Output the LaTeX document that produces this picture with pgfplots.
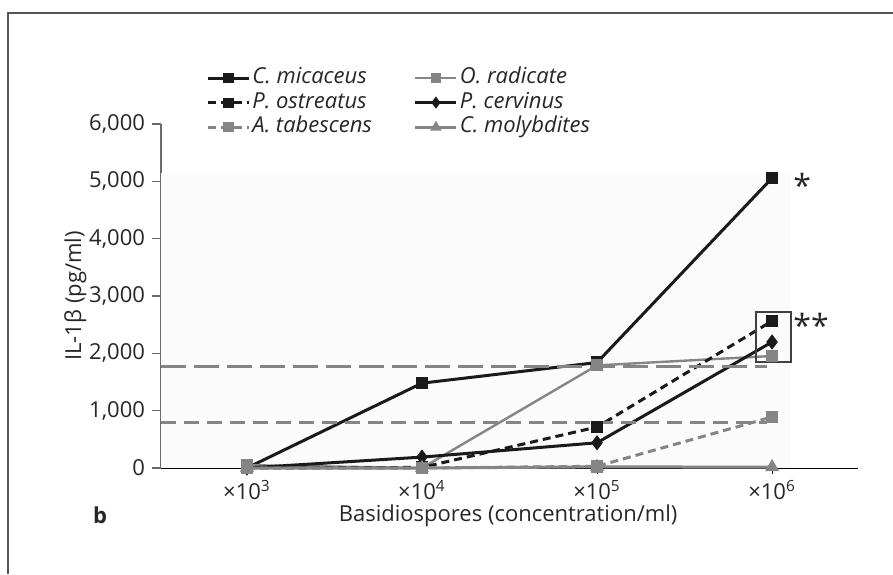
\documentclass[border=0pt]{standalone}
\usepackage{fontspec}
\setmainfont{Open Sans}
\usepackage{pgfplots}
\pgfplotsset{compat=1.18}
\definecolor{serA}{HTML}{1A1A1A}
\definecolor{serG}{HTML}{858585}
\definecolor{frameC}{HTML}{555555}
\begin{document}
\begin{tikzpicture}[x=1pt,y=1pt]
\useasboundingbox (0,0) rectangle (446.5,287);
\draw[frameC, line width=0.8pt] (4,0) -- (4,280.5) -- (446.5,280.5);
\node[font=\fontsize{11}{13}\selectfont\bfseries, text=black!85] at (50,29.5) {b};
\begin{axis}[
  at={(80.5pt,53pt)}, anchor=south west,
  scale only axis, width=348.5pt, height=172pt,
  xmin=-0.491, xmax=3.491, ymin=0, ymax=6000,
  axis x line=bottom, axis y line=left,
  axis line style={-},
  x axis line style={black, line width=0.5pt},
  y axis line style={serG!80!black, line width=0.6pt},
  xtick={0,1,2,3},
  xticklabels={×10\textsuperscript{3},×10\textsuperscript{4},×10\textsuperscript{5},×10\textsuperscript{6}},
  ytick={0,1000,...,6000},
  tick align=outside,
  major tick length=4.5pt,
  xtick style={black, line width=0.5pt, /pgfplots/major tick length=3pt},
  ytick style={serG!80!black, line width=0.6pt},
  /pgf/number format/assume math mode=true,
  /pgf/number format/1000 sep={,},
  scaled y ticks=false,
  tick label style={font=\fontsize{11}{13}\selectfont, text=black!85},
  xticklabel style={inner sep=0.5pt, yshift=-1pt},
  label style={font=\fontsize{11}{13}\selectfont, text=black!85},
  xlabel={Basidiospores (concentration/ml)},
  ylabel={IL-1β (pg/ml)},
  xlabel style={at={(axis description cs:0.498,-0.14)}, anchor=center, inner sep=0.5pt},
  ylabel style={at={(axis description cs:-0.123,0.5)}, anchor=center},
  clip=false,
  legend columns=2,
  legend cell align=left,
  legend style={at={(axis description cs:0.056,1.18)}, anchor=north west,
    draw=none, fill=none, font=\fontsize{11}{13}\selectfont\itshape,
    text=black!85,
    nodes={inner sep=1pt, text height=7.5pt, text depth=2pt},
    row sep=0.8pt,
    /tikz/column 2/.style={column sep=20pt}},
  legend image code/.code={\draw[mark repeat=2,mark phase=2,mark size=1.8pt] plot coordinates {(0pt,0pt) (10.25pt,0pt) (20.5pt,0pt)};},
]
\fill[black!1.5] (axis cs:-0.491,0) rectangle (axis cs:3.109,5146);
% C. micaceus
\addplot[serA, line width=1.5pt, mark=square*, mark size=2.4pt, mark options={solid}]
  coordinates {(0,0) (1,1480) (2,1840) (3,5058)};
\addlegendentry{C. micaceus}
% O. radicate
\addplot[serG, line width=1.2pt, mark=square*, mark size=2.4pt, mark options={solid}]
  coordinates {(0,50) (1,0) (2,1790) (3,1954)};
\addlegendentry{O. radicate}
% P. ostreatus
\addplot[serA, line width=1.5pt, dash pattern=on 4pt off 2.5pt, mark=square*, mark size=2.4pt, mark options={solid}]
  coordinates {(0,0) (1,10) (2,715) (3,2564)};
\addlegendentry{P. ostreatus}
% P. cervinus
\addplot[serA, line width=1.5pt, mark=diamond*, mark size=2.6pt, mark options={solid}]
  coordinates {(0,0) (1,190) (2,440) (3,2198)};
\addlegendentry{P. cervinus}
% A. tabescens
\addplot[serG, line width=1.5pt, dash pattern=on 4pt off 2.5pt, mark=square*, mark size=2.4pt, mark options={solid}]
  coordinates {(0,0) (1,0) (2,30) (3,890)};
\addlegendentry{A. tabescens}
% C. molybdites
\addplot[serG, line width=1.5pt, mark=triangle*, mark size=2.6pt, mark options={solid}]
  coordinates {(0,0) (1,0) (2,20) (3,15)};
\addlegendentry{C. molybdites}
% reference lines
\addplot[serG, line width=1.5pt, dash pattern=on 12.5pt off 4pt, forget plot]
  coordinates {(-0.491,1762) (2.97,1762)};
\addplot[serG, line width=1.5pt, dash pattern=on 7.5pt off 4pt, forget plot]
  coordinates {(-0.491,802) (2.97,802)};
\draw[black!75, line width=0.7pt] (axis cs:2.909,1849) rectangle (axis cs:3.109,2721);
\node[anchor=west, inner sep=0pt, font=\fontsize{16}{16}\selectfont, text=black!85] at (axis cs:3.12,4930) {*};
\node[anchor=west, inner sep=0pt, font=\fontsize{16}{16}\selectfont, text=black!85] at (axis cs:3.12,2490) {**};
\end{axis}
\end{tikzpicture}
\end{document}
